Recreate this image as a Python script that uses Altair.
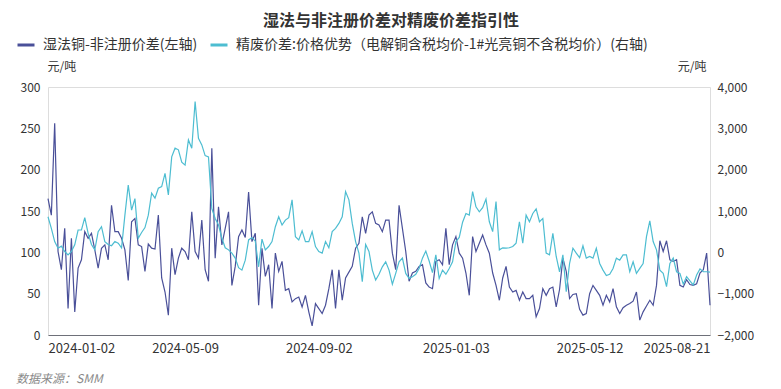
import altair as alt
import pandas as pd

FONT = "Noto Sans CJK SC"

title_text = "湿法与非注册价差对精废价差指引性"
name_dark = "湿法铜-非注册价差(左轴)"
name_cyan = "精废价差:价格优势（电解铜含税均价-1#光亮铜不含税均价）(右轴)"
source_text = "数据来源：SMM"
unit_text = "元/吨"

# left axis series (元/吨)
dark_vals = [
    165, 145, 256, 101, 79, 129, 32, 117, 28, 81,
    91, 125, 117, 123, 103, 81, 105, 109, 91, 157,
    125, 125, 117, 103, 66, 137, 141, 109, 107, 77,
    110, 105, 104, 145, 69, 52, 24, 105, 73, 93,
    105, 101, 91, 149, 101, 93, 139, 79, 65, 226,
    93, 155, 109, 129, 149, 60, 83, 119, 127, 118,
    173, 113, 123, 36, 105, 71, 85, 32, 99, 77,
    89, 54, 56, 40, 44, 46, 34, 48, 28, 11,
    38, 32, 26, 36, 56, 79, 32, 79, 42, 69,
    76, 83, 105, 111, 143, 123, 145, 149, 135, 133,
    125, 139, 139, 99, 79, 157, 129, 101, 65, 75,
    77, 83, 85, 63, 58, 56, 89, 91, 85, 129,
    85, 109, 119, 99, 93, 75, 48, 119, 101, 111,
    121, 109, 99, 75, 60, 42, 69, 83, 58, 52,
    54, 42, 52, 44, 44, 48, 22, 32, 56, 48,
    56, 58, 34, 55, 93, 77, 44, 49, 50, 31,
    24, 26, 50, 60, 54, 48, 36, 48, 40, 56,
    34, 26, 33, 36, 38, 41, 52, 18, 28, 35,
    42, 36, 60, 114, 101, 114, 91, 89, 91, 60,
    58, 67, 61, 60, 62, 75, 79, 99, 36,
]

# right axis series (元/吨)
cyan_vals = [
    860, 580, 260, 100, 150, 20, -60, 20, 180, 540,
    540, 840, 460, 190, 60, 500, 620, 260, 190, 160,
    260, 220, 110, 900, 1630, 1020, 1300, 340, 480, 600,
    900, 1430, 1310, 1550, 1590, 1910, 1390, 2310, 2520, 2480,
    2180, 2110, 2720, 2520, 3650, 2760, 2600, 2340, 2310, 1060,
    820, 660, 340, 110, 60, -20, -140, -370, -430, -190,
    300, 360, 270, -350, 320, 60, 140, 260, 620, 860,
    660, 780, 840, 1270, 380, 300, 520, 260, 260, 500,
    140, 20, -20, 260, 110, 500, 580, 700, 860, 1470,
    1270, 700, 260, -20, -710, 190, 20, -430, -670, -530,
    -350, -230, -430, -770, -510, -230, -140, -510, -630, -590,
    -530, -390, -140, 30, -210, -490, -60, -630, -430, -530,
    -390, -230, 260, 360, 730, 940, 900, 1470, 1100, 980,
    1080, 1290, 740, 500, 1230, 60, 110, 100, 110, 140,
    220, 740, 220, 900, 740, 940, 1050, 740, 820, -20,
    -60, 460, -100, -470, -60, -950, -270, 100, -20, -130,
    160, -140, -100, -140, 100, -270, -430, -560, -530, -390,
    -140, -190, -60, -60, -470, -230, -510, -390, -270, 380,
    760, 260, 60, -430, -510, -830, -270, -140, -470, -510,
    -770, -590, -690, -790, -550, -400, -470, -470, -480,
]

tick_idx = [10, 41, 81, 122, 162, 188]
tick_labels = ["2024-01-02", "2024-05-09", "2024-09-02", "2025-01-03", "2025-05-12", "2025-08-21"]
left_ticks = [0, 50, 100, 150, 200, 250, 300]
right_ticks = [-2000, -1000, 0, 1000, 2000, 3000, 4000]

C_DARK = "#4A5099"
C_CYAN = "#4DBDD1"
TXT = "#333333"

df = pd.DataFrame({"idx": list(range(len(dark_vals))), "dark": dark_vals, "cyan": cyan_vals})

label_expr = f"{tick_labels}[indexof({tick_idx}, datum.value)]"

x_enc = alt.X(
    "idx:Q",
    scale=alt.Scale(domain=[0, len(dark_vals) - 1], nice=False, zero=False),
    axis=alt.Axis(
        values=tick_idx, labelExpr=label_expr, title=None, grid=False, ticks=False,
        domainColor="#6E7079", domainWidth=1, labelColor=TXT, labelFontSize=13,
        labelFont=FONT, labelPadding=7, labelFlush=False, labelOverlap=False,
    ),
)

color_scale = alt.Scale(domain=[name_dark, name_cyan], range=[C_DARK, C_CYAN])
legend = alt.Legend(
    title=None, orient="none", legendX=-32, legendY=-52, direction="horizontal",
    symbolType="stroke", symbolSize=289, symbolStrokeWidth=3,
    labelFontSize=14, labelColor=TXT, labelFont=FONT, labelLimit=0,
    columnPadding=6, labelOffset=7,
)

base = alt.Chart(df)

dark_line = base.transform_calculate(series=repr(name_dark)).mark_line(strokeWidth=1.2).encode(
    x=x_enc,
    y=alt.Y(
        "dark:Q",
        scale=alt.Scale(domain=[0, 300], nice=False),
        axis=alt.Axis(
            orient="left", values=left_ticks, title=unit_text, titleAngle=0,
            titleX=-1, titleY=-21, titleAlign="left", titleBaseline="middle",
            titleFontWeight="normal", titleFontSize=12, titleColor=TXT, titleFont=FONT,
            grid=False, ticks=False, domain=False, labelPadding=8,
            labelFontSize=12, labelColor=TXT, labelFont=FONT,
        ),
    ),
    color=alt.Color("series:N", scale=color_scale, legend=legend),
)

cyan_line = base.transform_calculate(series=repr(name_cyan)).mark_line(strokeWidth=1.2).encode(
    x=x_enc,
    y=alt.Y(
        "cyan:Q",
        scale=alt.Scale(domain=[-2000, 4000], nice=False, zero=False),
        axis=alt.Axis(
            orient="right", values=right_ticks, format=",.0f", title=unit_text, titleAngle=0,
            titleX=-4, titleY=-21, titleAlign="right", titleBaseline="middle",
            titleFontWeight="normal", titleFontSize=12, titleColor=TXT, titleFont=FONT,
            grid=False, ticks=False, domain=False, labelPadding=7,
            labelFontSize=12, labelColor=TXT, labelFont=FONT,
        ),
    ),
    color=alt.Color("series:N", scale=color_scale, legend=legend),
)

source = alt.Chart(pd.DataFrame({"t": [source_text]})).mark_text(
    align="left", baseline="middle", fontSize=12, fontStyle="italic",
    color="#8A8A8A", font=FONT,
).encode(x=alt.value(-32), y=alt.value(292), text="t:N")

chart = (
    alt.layer(dark_line, cyan_line, source)
    .resolve_scale(y="independent")
    .properties(
        width=662, height=248,
        title=alt.TitleParams(
            text=title_text, anchor="middle", fontSize=16, fontWeight="bold",
            color=TXT, font=FONT, offset=6, dx=12,
        ),
        autosize=alt.AutoSizeParams(type="none"),
        padding={"left": 40, "top": 79, "right": 63, "bottom": 54},
    )
    .configure_view(stroke=None)
    .configure(background="white")
)

chart.save("out.html", embed_options={"renderer": "svg", "actions": False})
